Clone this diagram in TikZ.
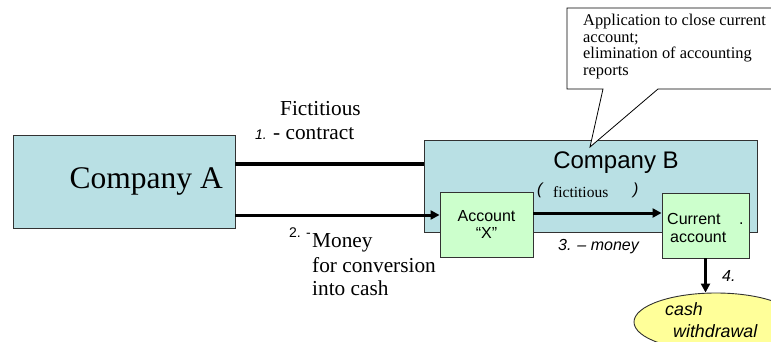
\documentclass[tikz,border=0pt]{standalone}
\usepackage{fontspec}
\setmainfont{Liberation Serif}
\setsansfont{Liberation Sans}
\usetikzlibrary{arrows.meta,shapes.geometric}
\definecolor{firmfill}{RGB}{185,224,228}
\definecolor{acctfill}{RGB}{204,255,204}
\definecolor{cashfill}{RGB}{255,255,153}
\definecolor{edge}{RGB}{50,50,50}

\begin{document}
\begin{tikzpicture}[x=1pt,y=-1pt,
  firm/.style={draw=edge, fill=firmfill, line width=0.9pt, inner sep=0pt},
  acct/.style={draw=edge, fill=acctfill, line width=0.9pt, inner sep=0pt,
    align=center, font=\sffamily\fontsize{16}{18.5}\selectfont},
  flow/.style={line width=3pt},
  flowarrow/.style={flow, -{Triangle[length=9pt,width=9pt]}},
  txt/.style={inner sep=0pt, anchor=base west},
  serifbig/.style={txt, font=\fontsize{21.3}{24}\selectfont},
  sanslbl/.style={txt, font=\sffamily\fontsize{16}{18}\selectfont},
  sansital/.style={txt, font=\sffamily\itshape\fontsize{16}{18}\selectfont},
  notefont/.style={txt, font=\fontsize{16.4}{17}\selectfont},
]
\useasboundingbox (0,0) rectangle (771,342);
\clip (0,0) rectangle (771,342);

% the two firms
\node[firm, minimum width=222, minimum height=93] (A) at (124,181.5) {};
\node[txt, font=\fontsize{31.5}{36}\selectfont, anchor=base east] (Aname) at (223,189) {Company A};

\node[firm, minimum width=333, minimum height=92] (B) at (590.5,186) {};
\node[inner sep=0pt, anchor=base, font=\sffamily\fontsize{24}{28}\selectfont] (Bname) at (616,168) {Company B};
\node[sansital] (lpar) at (537,194) {(};
\node[txt, font=\fontsize{15.5}{18}\selectfont] (fict) at (553,197) {fictitious};
\node[sansital] (rpar) at (633,194) {)};

% accounts inside company B
\node[acct, minimum width=93, minimum height=65] (X) at (486.5,224.5) {Account\\[-1pt]``X''};
\node[acct, minimum width=87, minimum height=65] (Cur) at (705.5,225.5) {};
\node[sanslbl] (cur1) at (667,224) {Current};
\node[sanslbl] (cur2) at (670,242) {account};
\node[sanslbl] (curdot) at (739,224) {.};

% cash withdrawal
\node[ellipse, draw=edge, fill=cashfill, line width=0.9pt, minimum width=164, minimum height=58, inner sep=0pt] (cash) at (716,322) {};
\node[txt, font=\sffamily\itshape\fontsize{17.8}{20}\selectfont] (cash1) at (665,315) {cash};
\node[txt, font=\sffamily\itshape\fontsize{17.8}{20}\selectfont] (cash2) at (673,337) {withdrawal};

% connectors
\draw[flow] (A.east |- 0,164) -- (B.west |- 0,164);
\draw[flowarrow] (A.east |- 0,215) -- (X.west |- 0,215);
\draw[flowarrow] (X.east |- 0,213) -- (Cur.west |- 0,213);
\draw[flowarrow] (Cur.south) -- (Cur.south |- cash.north);

% connector labels
\node[serifbig] (l1a) at (280,116) {Fictitious};
\node[txt, font=\sffamily\itshape\fontsize{14}{16}\selectfont] (l1n) at (255,140) {1.};
\node[serifbig] (l1b) at (273,140) {- contract};

\node[txt, font=\sffamily\fontsize{14}{16}\selectfont] (l2n) at (289,237) {2. -};
\node[serifbig] (l2a) at (312,247) {Money};
\node[serifbig] (l2b) at (312,272) {for conversion};
\node[serifbig] (l2c) at (312,295) {into cash};

\node[sansital] (l3) at (558,250) {3. -- money};
\node[sansital] (l4) at (722,281) {4.};

% callout note pointing at company B
\draw[draw=black, fill=white, line width=0.8pt]
  (567,8) -- (780,8) -- (780,89) -- (658,89) -- (590,147) -- (603,89) -- (567,89) -- cycle;
\node[notefont] (n1) at (583,26) {Application to close current};
\node[notefont] (n2) at (583,42.5) {account;};
\node[notefont] (n3) at (583,59) {elimination of accounting};
\node[notefont] (n4) at (583,75.5) {reports};
\end{tikzpicture}
\end{document}
